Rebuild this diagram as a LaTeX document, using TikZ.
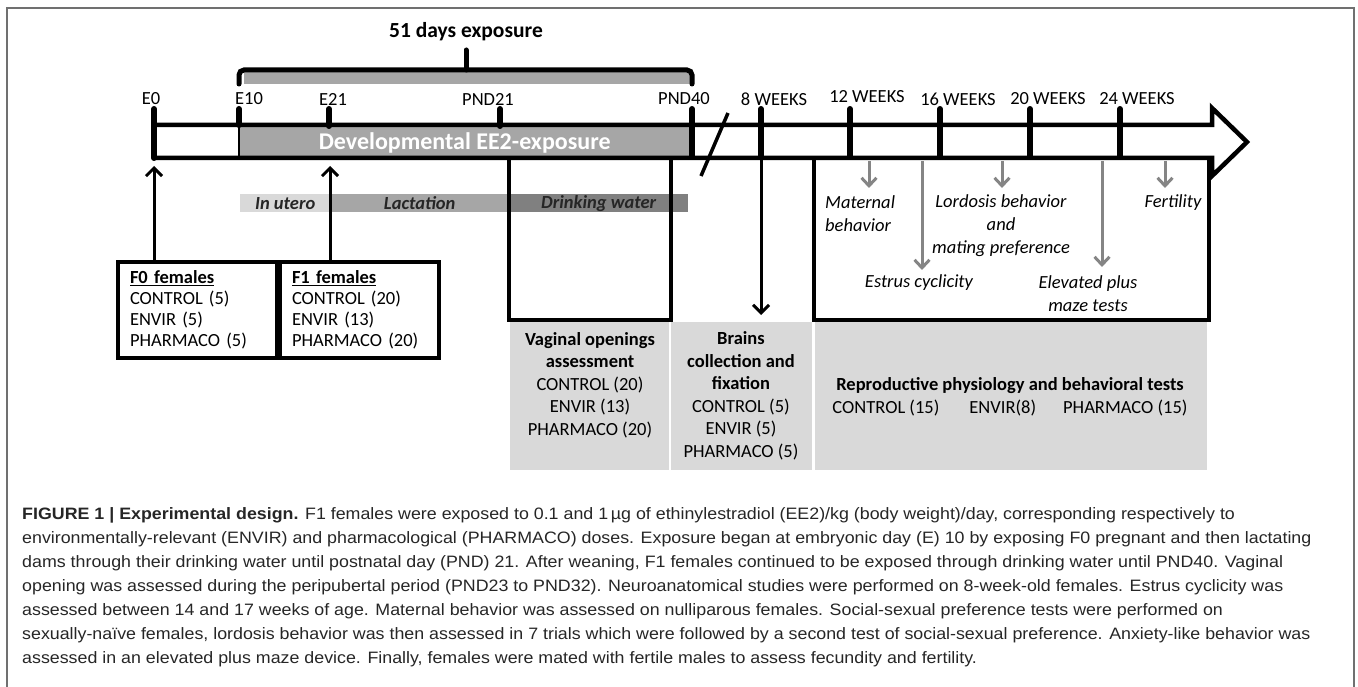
\documentclass[tikz,border=0pt]{standalone}
\usepackage{fontspec}
\setmainfont{Carlito}
\newfontfamily\capfont[FakeStretch=1.08]{Liberation Sans}
\usetikzlibrary{positioning,arrows.meta}
\definecolor{lightgrey}{HTML}{D9D9D9}
\definecolor{midgrey}{HTML}{A6A6A6}
\definecolor{darkgrey}{HTML}{808080}
\definecolor{arrowgrey}{HTML}{858585}
\definecolor{framegrey}{HTML}{707070}
\definecolor{captext}{HTML}{262626}

\begin{document}
\begin{tikzpicture}[x=1pt,y=-1pt]
\tikzstyle{txt}=[inner sep=0pt,font=\fontsize{18.5}{22.5}\selectfont]
\tikzstyle{barline}=[line width=4.5pt]
\tikzstyle{tickmark}=[line width=6pt,line cap=round]
\tikzstyle{boxline}=[line width=3.5pt]
\tikzstyle{blackarrow}=[line width=3pt,-{Straight Barb[length=8pt,width=16pt,line width=3pt]}]
\tikzstyle{greyarrow}=[line width=3pt,draw=arrowgrey,-{Straight Barb[length=8pt,width=15pt,line width=3pt]}]
\tikzstyle{period}=[anchor=north west,minimum height=18pt,inner sep=0pt,text=black!85,font=\fontsize{18.5}{22}\selectfont\bfseries\itshape]
\tikzstyle{groupbox}=[draw,line width=3.5pt,minimum width=159pt,minimum height=96pt,text width=135pt,align=left,inner sep=0pt,font=\fontsize{18.5}{21}\selectfont]
\useasboundingbox (0,0) rectangle (1358,687);
\draw [framegrey,line width=1.5pt] (7,700) -- (7,8) -- (1354,8) -- (1354,700);

% exposure bracket
\fill [midgrey] (244,72) rectangle (690,84);
\draw [line width=5pt,rounded corners=5pt,line cap=round] (239,84) -- (239,70) -- (692,70) -- (692,84);
\draw [line width=5pt,line cap=round] (466,70) -- (466,50);
\node [txt,font=\fontsize{21.5}{24}\selectfont\bfseries] (days) at (466,32) {51 days exposure};

% timeline
\node [fill=midgrey,anchor=north west,minimum width=451pt,minimum height=31pt,inner sep=0pt,
  text=white,font=\fontsize{24}{28}\selectfont\bfseries] (ee2) at (239,127) {Developmental EE2-exposure};
\draw [line width=1.5pt] (239,125) -- (239,158);
\draw [barline] (154,125) -- (1212,125) -- (1212,108) -- (1247,142) -- (1212,176) -- (1212,158) -- (154,158);
\draw [tickmark] (154,109) -- (154,158);
\draw [tickmark] (239,109) -- (239,125);
\draw [tickmark] (329,109) -- (329,126);
\draw [tickmark] (500,109) -- (500,126);
\draw [tickmark] (692,109) -- (692,157);
\draw [tickmark] (761,109) -- (761,157);
\draw [tickmark] (850,109) -- (850,157);
\draw [tickmark] (940,109) -- (940,157);
\draw [tickmark] (1030,109) -- (1030,157);
\draw [tickmark] (1120,109) -- (1120,157);
\draw [line width=3.5pt] (728,113) -- (701,176);

\node [txt] (le0) at (151,99) {E0};
\node [txt] (le10) at (249,99) {E10};
\node [txt] (le21) at (333,99) {E21};
\node [txt] (lp21) at (488,99) {PND21};
\node [txt] (lp40) at (684,99) {PND40};
\node [txt] (lw8) at (774,99) {8 WEEKS};
\node [txt] (lw12) at (867,97) {12 WEEKS};
\node [txt] (lw16) at (958,99) {16 WEEKS};
\node [txt] (lw20) at (1048,99) {20 WEEKS};
\node [txt] (lw24) at (1137,99) {24 WEEKS};

% periods
\node [period,fill=lightgrey,minimum width=90pt] (utero) at (240,194) {In utero};
\node [period,fill=midgrey,minimum width=179pt] (lact) at (330,194) {Lactation};
\node [period,fill=darkgrey,minimum width=179pt] (drink) at (509,194) {Drinking water};

% parental groups
\node [groupbox] (f0) at (197.5,310) {\underline{\textbf{F0 females}}\\CONTROL (5)\\ENVIR (5)\\PHARMACO (5)};
\node [groupbox] (f1) at (359.5,310) {\underline{\textbf{F1 females}}\\CONTROL (20)\\ENVIR (13)\\PHARMACO (20)};
\coordinate (e0tip) at (154,166);
\coordinate (e21tip) at (330,166);
\draw [blackarrow] (f0.north -| e0tip) -- (e0tip);
\draw [blackarrow] (f1.north -| e21tip) -- (e21tip);

% outcome blocks
\fill [lightgrey] (510,322) rectangle (669,470);
\fill [lightgrey] (671,322) rectangle (812,470);
\fill [lightgrey] (815,322) rectangle (1207,470);
\draw [boxline] (509,158) -- (509,320) -- (671,320) -- (671,158);
\draw [boxline] (814,158) -- (814,320) -- (1209,320) -- (1209,160);
\coordinate (w8top) at (761,158);
\coordinate (w8tip) at (761,315);
\draw [blackarrow] (w8top) -- (w8tip);

\node [txt,align=center] (vag) at (590,385) {\textbf{Vaginal openings}\\\textbf{assessment}\\CONTROL (20)\\ENVIR (13)\\PHARMACO (20)};
\node [txt,align=center] (brain) at (741,396) {\textbf{Brains}\\\textbf{collection and}\\\textbf{fixation}\\CONTROL (5)\\ENVIR (5)\\PHARMACO (5)};
\node [txt,align=center] (repro) at (1010,397) {\textbf{Reproductive physiology and behavioral tests}\\CONTROL (15)\hspace{30pt}ENVIR(8)\hspace{27pt}PHARMACO (15)};

% adult tests
\node [txt,align=left,anchor=west,font=\fontsize{18.5}{23}\selectfont\itshape] (mat) at (825,214) {Maternal\\behavior};
\node [txt,align=center,font=\fontsize{18.5}{23}\selectfont\itshape] (lord) at (1001,226) {Lordosis behavior\\and\\mating preference};
\node [txt,font=\fontsize{18.5}{23}\selectfont\itshape] (estrus) at (919,283) {Estrus cyclicity};
\node [txt,align=center,font=\fontsize{18.5}{23}\selectfont\itshape] (epm) at (1088,294) {Elevated plus\\maze tests};
\node [txt,font=\fontsize{18.5}{23}\selectfont\itshape] (fert) at (1173,203) {Fertility};
\coordinate (matend) at (869,188);
\coordinate (estend) at (922,270);
\coordinate (lordend) at (1002,188);
\coordinate (epmend) at (1102,267);
\coordinate (fertend) at (1165,188);
\draw [greyarrow] (matend |- 0,161) -- (matend);
\draw [greyarrow] (estend |- 0,161) -- (estend);
\draw [greyarrow] (lordend |- 0,161) -- (lordend);
\draw [greyarrow] (epmend |- 0,161) -- (epmend);
\draw [greyarrow] (fertend |- 0,161) -- (fertend);

% caption
\node [anchor=north west,inner sep=0pt,align=left,text=captext,font=\capfont\fontsize{16.5}{24}\selectfont] (caption) at (22,507)
{\textbf{FIGURE 1 \textbar{} Experimental design.} F1 females were exposed to 0.1 and 1\,µg of ethinylestradiol (EE2)/kg (body weight)/day, corresponding respectively to\\
environmentally-relevant (ENVIR) and pharmacological (PHARMACO) doses. Exposure began at embryonic day (E) 10 by exposing F0 pregnant and then lactating\\
dams through their drinking water until postnatal day (PND) 21. After weaning, F1 females continued to be exposed through drinking water until PND40. Vaginal\\
opening was assessed during the peripubertal period (PND23 to PND32). Neuroanatomical studies were performed on 8-week-old females. Estrus cyclicity was\\
assessed between 14 and 17 weeks of age. Maternal behavior was assessed on nulliparous females. Social-sexual preference tests were performed on\\
sexually-naïve females, lordosis behavior was then assessed in 7 trials which were followed by a second test of social-sexual preference. Anxiety-like behavior was\\
assessed in an elevated plus maze device. Finally, females were mated with fertile males to assess fecundity and fertility.};
\end{tikzpicture}
\end{document}
